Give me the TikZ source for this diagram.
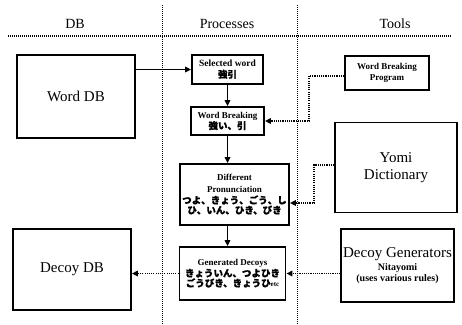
\documentclass[tikz,border=0pt]{standalone}
\usepackage{fontspec}
\setmainfont{Liberation Serif}
\newfontfamily\jp{Noto Sans CJK JP}[FakeBold=0.6]
\usetikzlibrary{arrows.meta}
\tikzset{
  box/.style={draw, line width=1.8pt, rectangle, align=center, inner sep=1pt},
  bigtext/.style={font=\fontsize{15}{17}\selectfont},
  smalltext/.style={font=\fontsize{9}{11}\selectfont\bfseries},
  flow/.style={line width=1.4pt, -{Triangle[length=6pt,width=5.5pt]}},
  feed/.style={line width=1.6pt, dash pattern=on 1.1pt off 1.1pt, -{Triangle[length=6pt,width=5.5pt]}},
  sep/.style={line width=0.6pt, dash pattern=on 0.7pt off 1.3pt},
  headrule/.style={line width=1.4pt, dash pattern=on 1pt off 1pt},
  head/.style={font=\fontsize{14}{16}\selectfont},
}
\newcommand{\jtext}[1]{{\jp\bfseries\fontsize{9.5}{11.5}\selectfont #1}}
\begin{document}
\begin{tikzpicture}[x=1pt, y=-1pt]
\useasboundingbox (0,0) rectangle (462,324);

% column headings and separators
\node[head] (hdb) at (75,24) {DB};
\node[head] (hproc) at (227,24) {Processes};
\node[head] (htools) at (395,24) {Tools};
\draw[headrule] (8,36) -- (452,36);
\draw[sep] (162,5) -- (162,324);
\draw[sep] (297,5) -- (297,324);

% databases
\node[box, bigtext, minimum width=118pt, minimum height=83pt] (wdb) at (76,96.5) {Word DB};
\node[box, bigtext, minimum width=118pt, minimum height=81pt] (ddb) at (72,269.5) {Decoy DB};

% processing steps
\node[box, minimum width=71pt, minimum height=29pt] (sel) at (227.5,69.5)
  {\textbf{\fontsize{9.5}{11}\selectfont Selected word}\\[-1pt]\jtext{強引}};
\node[box, minimum width=73pt, minimum height=28pt] (wb) at (227.5,121)
  {\textbf{\fontsize{9}{11}\selectfont Word Breaking}\\[-1pt]\jtext{強い、引}};
\node[box, minimum width=109pt, minimum height=61pt] (dp) at (234.5,194.5)
  {\textbf{\fontsize{9}{11}\selectfont Different}\\\textbf{\fontsize{9}{11}\selectfont Pronunciation}\\[-1pt]\jtext{つよ、きょう、ごう、し}\\[-2pt]\jtext{ひ、いん、ひき、びき}};
\node[box, minimum width=106pt, minimum height=53pt] (gd) at (232.5,273.5)
  {\textbf{\fontsize{9}{11}\selectfont Generated Decoys}\\[-1pt]\jtext{きょういん、つよひき}\\[-2pt]\jtext{ごうびき、きょうひ}{\fontsize{7}{9}\selectfont\bfseries etc}};

% tools
\node[box, smalltext, minimum width=84pt, minimum height=34pt] (wbp) at (387,73) {Word Breaking\\Program};
\node[box, bigtext, minimum width=122pt, minimum height=90pt] (yomi) at (396,167.5) {Yomi\\Dictionary};
\node[box, minimum width=113pt, minimum height=73pt] (dg) at (397.5,265.5)
  {{\fontsize{15}{17}\selectfont Decoy Generators}\\[1pt]{\fontsize{10}{12}\selectfont\bfseries Nitayomi}\\[-1pt]{\fontsize{10}{12}\selectfont\bfseries (uses various rules)}};

% main flow
\draw[flow] (wdb.east |- sel.west) -- (sel.west);
\draw[flow] (sel.south) -- (sel.south |- wb.north);
\draw[flow] (wb.south) -- (wb.south |- dp.north);
\draw[flow] (dp.south -| wb.south) -- (wb.south |- gd.north);

% tool inputs
\coordinate (k1) at (309,76);
\draw[feed] (wbp.west |- k1) -- (k1) |- (wb.east);
\coordinate (k2) at (314,165);
\coordinate (dpin) at (dp.east |- 0,203);
\draw[feed] (yomi.west |- k2) -- (k2) |- (dpin);
\draw[feed] (dg.west |- gd.east) -- (gd.east);
\draw[feed] (gd.west) -- (gd.west -| ddb.east);
\end{tikzpicture}
\end{document}
